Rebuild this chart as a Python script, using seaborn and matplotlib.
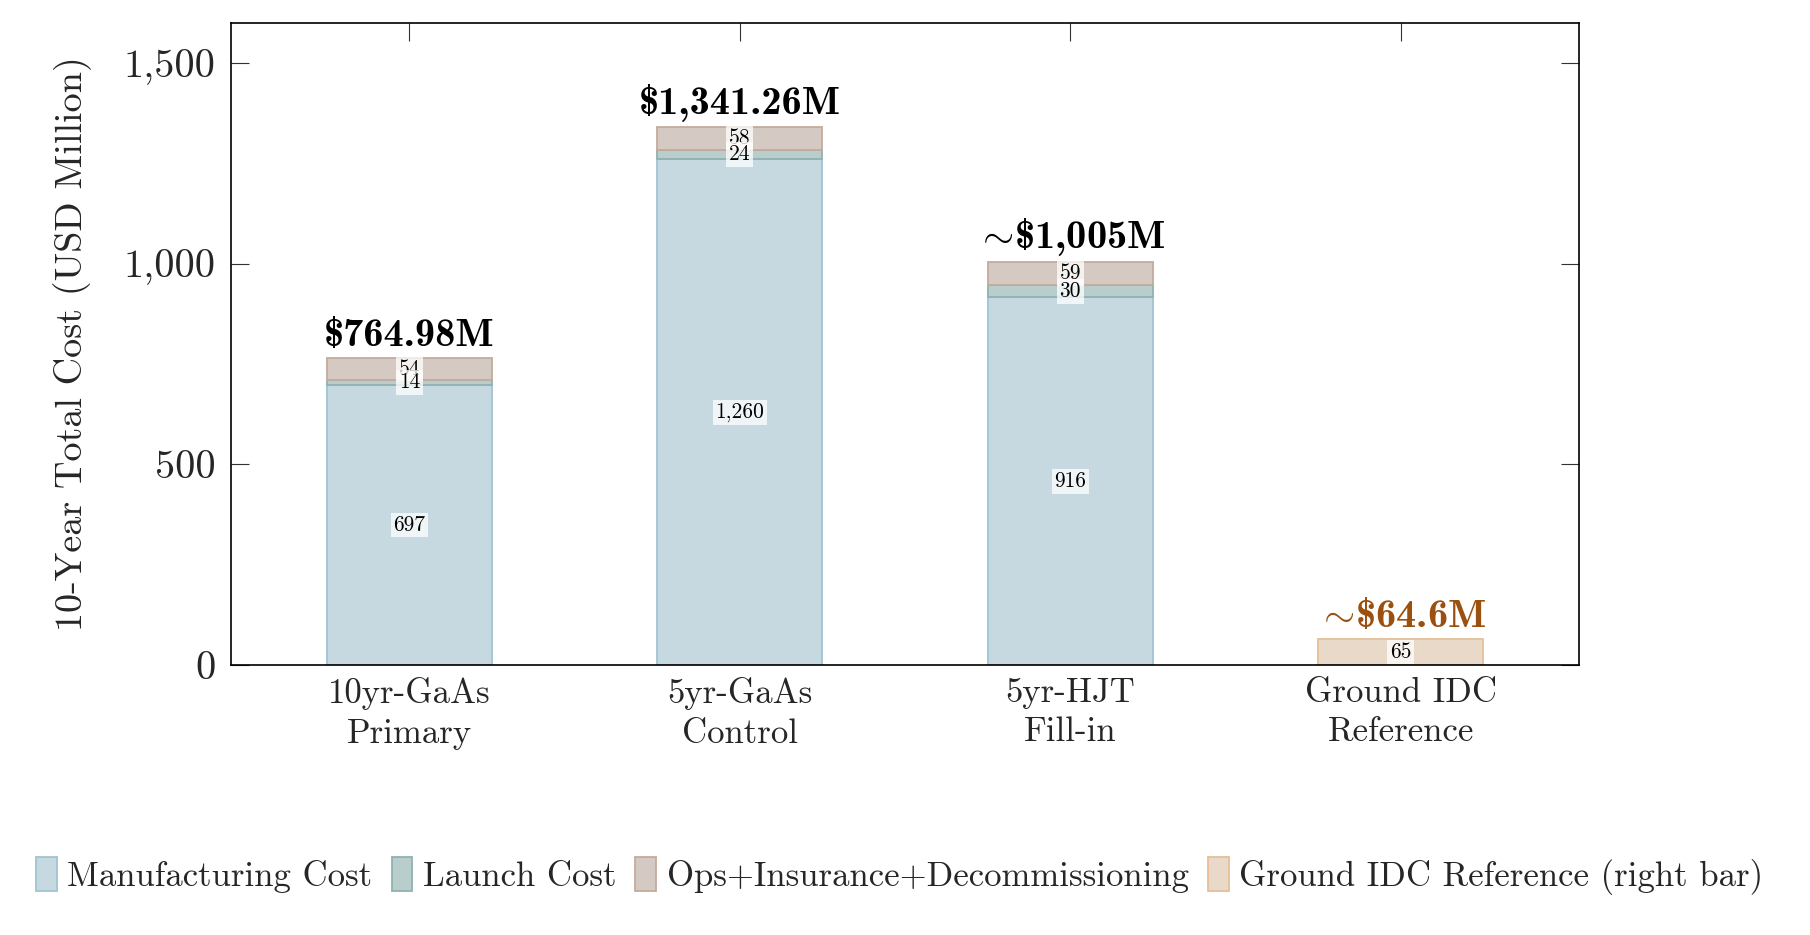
import matplotlib
matplotlib.use("Agg")
import matplotlib.pyplot as plt
import seaborn as sns
import pandas as pd
from matplotlib.patches import Patch
from matplotlib.ticker import FuncFormatter, FixedLocator

# ---------------- data ----------------
categories = ["10yr-GaAs\nPrimary", "5yr-GaAs\nControl", "5yr-HJT\nFill-in", "Ground IDC\nReference"]
space_configs = categories[:3]
manufacturing = [697, 1260, 916]
launch = [14, 24, 30]
ops = [54, 58, 59]
ground_config = [categories[3]]
ground = [64.6]
total_labels = ["\\$764.98M", "\\$1,341.26M", r"$\sim\!$\$1,005M"]
ground_label = r"$\sim\!$\$64.6M"
series_names = ["Manufacturing Cost", "Launch Cost", "Ops+Insurance+Decommissioning",
                "Ground IDC Reference (right bar)"]
yticks = [0, 500, 1000, 1500]

# ---------------- style ----------------
sns.set_theme(style="white")
plt.rcParams["font.family"] = ["cmr10"]
plt.rcParams["mathtext.fontset"] = "cm"
plt.rcParams["axes.formatter.use_mathtext"] = True
plt.rcParams["axes.unicode_minus"] = False

fills = ["#c6d9e1", "#b8cdcc", "#d5cac3", "#e9d9c9"]
edges = ["#a0c4d4", "#8fb2b1", "#c3ab9c", "#e6bf98"]
ground_text_color = "#9c5010"

fig = plt.figure(figsize=(18.10, 9.35), dpi=100)
ax = fig.add_axes([0.1276, 0.2888, 0.8724 - 0.1276, 0.9754 - 0.2888])

# ---------------- bars ----------------
bottoms_launch = manufacturing
bottoms_ops = [m + l for m, l in zip(manufacturing, launch)]
layers = [
    (manufacturing, [0, 0, 0], 0),
    (launch, bottoms_launch, 1),
    (ops, bottoms_ops, 2),
]
for vals, bots, ci in layers:
    df = pd.DataFrame({"config": space_configs, "value": vals})
    sns.barplot(data=df, x="config", y="value", order=categories, width=0.5,
                color=fills[ci], edgecolor=edges[ci], linewidth=1.3, saturation=1,
                errorbar=None, bottom=bots, ax=ax)
dfg = pd.DataFrame({"config": ground_config, "value": ground})
sns.barplot(data=dfg, x="config", y="value", order=categories, width=0.5,
            color=fills[3], edgecolor=edges[3], linewidth=1.3, saturation=1,
            errorbar=None, ax=ax)

# ---------------- segment labels ----------------
box = dict(boxstyle="square,pad=0.12", facecolor="white", edgecolor="none", alpha=0.75)
label_z = {0: 5, 1: 7, 2: 6}
for vals, bots, ci in layers:
    for i, (v, b) in enumerate(zip(vals, bots)):
        ax.text(i, b + v / 2, f"{v:,.0f}", ha="center", va="center", fontsize=15.5,
                color="black", bbox=box, zorder=label_z[ci])
for v in ground:
    ax.text(3, v / 2, f"{v:,.0f}", ha="center", va="center", fontsize=15.5,
            color="black", bbox=box, zorder=5)

# ---------------- total labels ----------------
totals = [m + l + o for m, l, o in zip(manufacturing, launch, ops)]
for i, (t, lab) in enumerate(zip(totals, total_labels)):
    ax.annotate(lab, xy=(i, t), xytext=(0, 3), textcoords="offset points",
                ha="center", va="bottom", fontsize=29, family="cmb10", color="black")
ax.annotate(ground_label, xy=(3, ground[0]), xytext=(0, 3), textcoords="offset points",
            ha="center", va="bottom", fontsize=29, family="cmb10", color=ground_text_color)

# ---------------- axes ----------------
ax.set_xlim(-0.54, 3.54)
ax.set_ylim(0, 1600)
ax.yaxis.set_major_locator(FixedLocator(yticks))
ax.yaxis.set_major_formatter(FuncFormatter(lambda v, p: f"{v:,.0f}"))
ax.set_xlabel("")
ax.set_ylabel("10-Year Total Cost (USD Million)", fontsize=27.5)
ax.yaxis.set_label_coords(-0.103, 0.5)

ax.tick_params(axis="y", which="major", left=True, right=True, direction="in",
               length=13, width=0.8, color="#333333", labelsize=29, pad=11)
ax.tick_params(axis="x", which="major", top=True, bottom=False, direction="in",
               length=13, width=0.8, color="#333333", labelsize=25, pad=9)
for lab in ax.get_xticklabels():
    lab.set_linespacing(1.3)
for s in ax.spines.values():
    s.set_visible(True)
    s.set_color("black")
    s.set_linewidth(1.2)

# ---------------- legend ----------------
handles = [Patch(facecolor=fills[i], edgecolor=edges[i], linewidth=1.3, label=series_names[i])
           for i in range(4)]
fig.legend(handles=handles, loc="center", bbox_to_anchor=(0.497, 0.063), ncol=4,
           frameon=False, fontsize=25, handlelength=0.6, handleheight=1.1,
           handletextpad=0.3, columnspacing=0.55, borderaxespad=0)

fig.savefig("out.png", dpi=100)
